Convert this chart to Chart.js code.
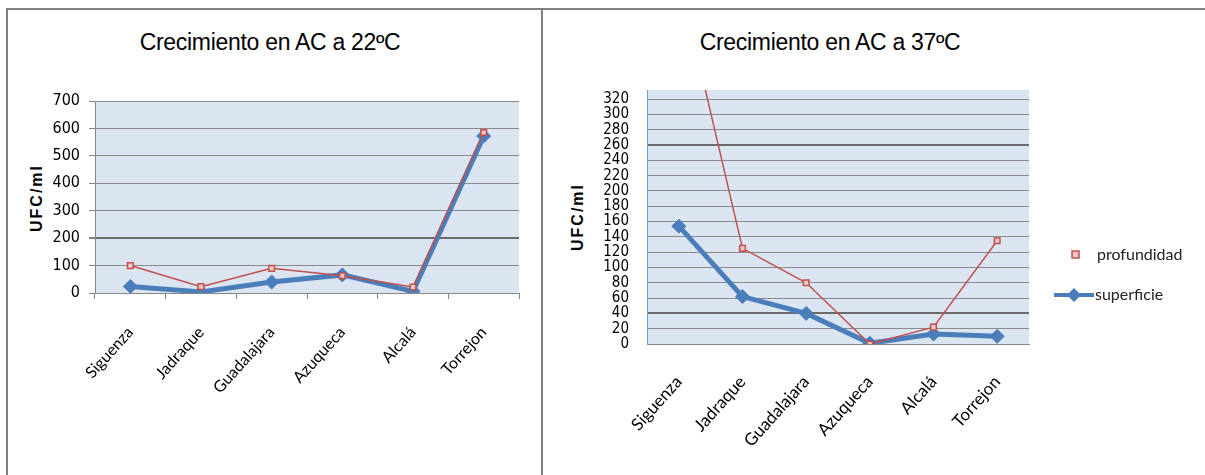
<!DOCTYPE html>
<html>
<head>
<meta charset="utf-8">
<script src="https://cdn.jsdelivr.net/npm/chart.js@4.4.1/dist/chart.umd.min.js"></script>
<style>
  html, body { margin:0; padding:0; background:#fff; width:1205px; height:475px; overflow:hidden; position:relative; }
  .b { position:absolute; background:#808080; }
  .title { position:absolute; top:29px; font-family:"Liberation Sans", Arial, sans-serif; font-size:23px; color:#000; white-space:nowrap; transform:translateX(-50%); letter-spacing:-0.3px; }
  .ytitle { position:absolute; font-family:"Liberation Sans", Arial, sans-serif; font-weight:bold; font-size:16px; letter-spacing:2px; white-space:nowrap; transform:translate(-50%,-50%) rotate(-90deg); }
  .leg { position:absolute; font-family:Lato, "Open Sans", sans-serif; font-size:16px; color:#222; white-space:nowrap; }
  canvas { position:absolute; }
</style>
</head>
<body>
<div class="b" style="left:6px;top:8px;width:1199px;height:2px"></div>
<div class="b" style="left:6px;top:8px;width:2px;height:467px"></div>
<div class="b" style="left:541px;top:8px;width:2px;height:467px"></div>

<div class="title" style="left:270px">Crecimiento en AC a 22ºC</div>
<div class="title" style="left:830px">Crecimiento en AC a 37ºC</div>
<div class="ytitle" style="left:37px;top:198px">UFC/ml</div>
<div class="ytitle" style="left:578px;top:217px">UFC/ml</div>

<div style="position:absolute;left:0;top:80px;width:540px;height:395px"><canvas id="c1" width="540" height="395"></canvas></div>
<div style="position:absolute;left:543px;top:80px;width:662px;height:395px"><canvas id="c2" width="662" height="395"></canvas></div>

<svg style="position:absolute;left:1050px;top:245px" width="50" height="60">
  <rect x="22" y="6" width="7" height="7" fill="#f2c4c4" stroke="#c0504d" stroke-width="1.5"/>
  <line x1="4" y1="50" x2="44" y2="50" stroke="#4a7ebb" stroke-width="4"/>
  <polygon points="24,43 31,50 24,57 17,50" fill="#4a7ebb"/>
</svg>
<div class="leg" style="left:1097px;top:244px">profundidad</div>
<div class="leg" style="left:1095px;top:284px">superficie</div>

<script>
const categories = ["Siguenza", "Jadraque", "Guadalajara", "Azuqueca", "Alcalá", "Torrejon"];
const seriesNames = ["profundidad", "superficie"];
// Crecimiento en AC a 22ºC
const prof22 = [100, 23, 90, 63, 22, 585];
const sup22  = [24, 4, 40, 66, 6, 572];
// Crecimiento en AC a 37ºC
const prof37 = [480, 125, 80, 0, 22, 135];
const sup37  = [154, 62, 40, 1, 13, 10];
const yTicks22 = { max: 700, step: 100 };
const yTicks37 = { max: 332, step: 20 };

const plotBg = {
  id: 'plotBg',
  beforeDraw(chart) {
    const a = chart.chartArea, ctx = chart.ctx;
    ctx.save(); ctx.fillStyle = '#dbe5f1';
    ctx.fillRect(a.left, a.top, a.right - a.left, a.bottom - a.top);
    ctx.restore();
  }
};

function datasets(prof, sup) {
  return [
    { label: seriesNames[0], data: prof, borderColor: '#c0504d', borderWidth: 1.5,
      pointStyle: 'rect', pointRadius: 4, pointBackgroundColor: '#f4c9c8', pointBorderColor: '#c0504d', pointBorderWidth: 1.5,
      tension: 0 },
    { label: seriesNames[1], data: sup, borderColor: '#4a7ebb', borderWidth: 5,
      pointStyle: 'rectRot', pointRadius: 7, pointBackgroundColor: '#4a7ebb', pointBorderColor: '#4a7ebb', pointBorderWidth: 1,
      tension: 0 }
  ];
}

function makeChart(id, prof, sup, cfg) {
  return new Chart(document.getElementById(id), {
    type: 'line',
    data: { labels: categories, datasets: datasets(prof, sup) },
    plugins: [plotBg],
    options: {
      responsive: false, animation: false, devicePixelRatio: 1,
      layout: { padding: cfg.padding },
      plugins: { legend: { display: false }, tooltip: { enabled: false }, title: { display: false } },
      scales: {
        x: {
          offset: true,
          grid: { offset: true, drawOnChartArea: false, drawTicks: cfg.xTicks, tickLength: 6, color: '#868686' },
          border: { color: '#868686', width: 1 },
          ticks: { minRotation: 48, maxRotation: 48, autoSkip: false, padding: cfg.xPad,
                   color: '#000', font: { family: 'Lato, "Open Sans", sans-serif', size: cfg.xFont } },
          afterFit(s) { s.height = cfg.xHeight; }
        },
        y: {
          min: 0, max: cfg.y.max,
          grid: { color: (c) => (cfg.dark.includes(c.tick && c.tick.value) ? '#6b6b6b' : '#8a8a8a'),
                  lineWidth: (c) => (cfg.dark.includes(c.tick && c.tick.value) ? 2 : 1),
                  drawTicks: true, tickLength: cfg.yTickLen, tickColor: cfg.yTickColor },
          border: { color: cfg.yAxisColor, width: 1 },
          ticks: { stepSize: cfg.y.step, includeBounds: false, autoSkip: false, padding: cfg.yPad, color: '#000',
                   font: { family: '"DejaVu Sans Condensed", "Liberation Sans Narrow", sans-serif', size: cfg.yFont, lineHeight: 1 } },
          afterFit(s) { s.width = cfg.yWidth; }
        }
      }
    }
  });
}

makeChart('c1', prof22, sup22, {
  padding: { left: 0, right: 21, top: 21, bottom: 0 },
  xHeight: 395 - 213, yWidth: 95, xTicks: true, xPad: 24, xFont: 16,
  yTickLen: 6, yTickColor: '#868686', yPad: 9, yFont: 16, y: yTicks22, dark: [200], yAxisColor: '#868686'
});
makeChart('c2', prof37, sup37, {
  padding: { left: 0, right: 662 - 486, top: 10, bottom: 0 },
  xHeight: 395 - 264, yWidth: 104, xTicks: false, xPad: 28, xFont: 17,
  yTickLen: 16, yTickColor: 'rgba(0,0,0,0)', yPad: 2, yFont: 15, y: yTicks37, dark: [260, 40], yAxisColor: '#7ba0cd'
});
</script>
</body>
</html>
